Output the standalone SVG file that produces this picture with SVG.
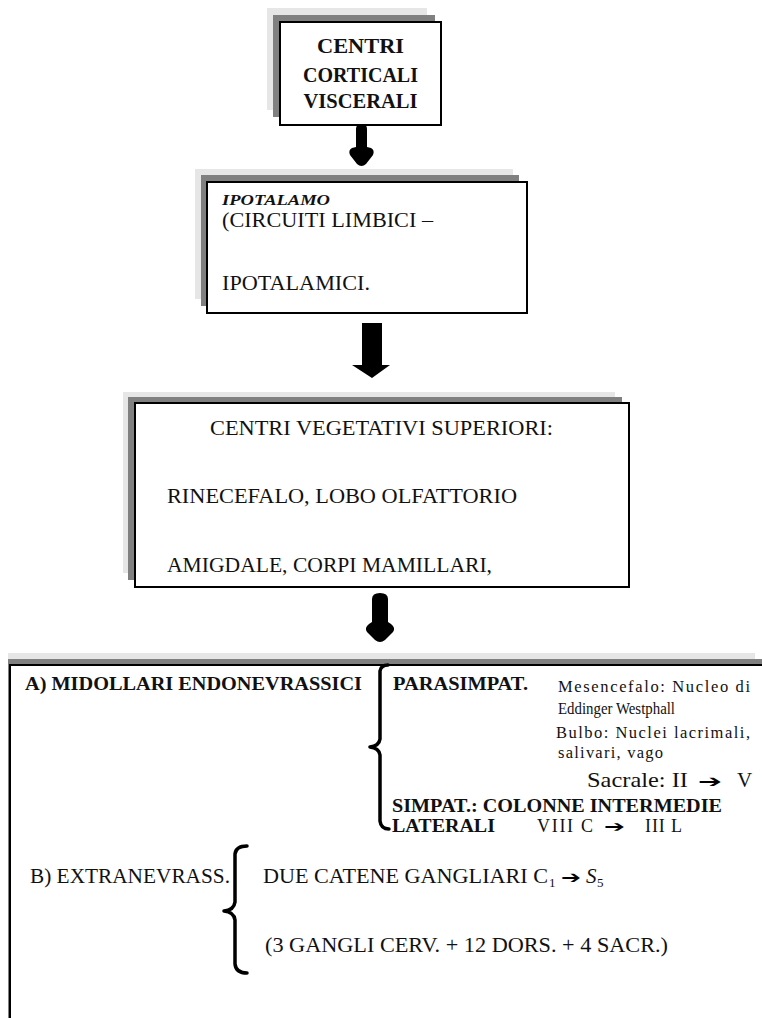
<svg xmlns="http://www.w3.org/2000/svg" width="762" height="1018" viewBox="0 0 762 1018">
<style>
.sh1{fill:#e6e6e6}
.sh2{fill:#808080}
.box{fill:#fff;stroke:#000;stroke-width:2}
.t{font-family:"Liberation Serif","Times New Roman",serif;fill:#111}
.b{font-weight:bold}
.arr{fill:#000}
.brace{fill:none;stroke:#000;stroke-width:3.5;stroke-linecap:round;stroke-linejoin:round}
.sym{font-family:"DejaVu Sans",sans-serif;fill:#000}
</style>
<rect width="762" height="1018" fill="#fff"/>

<g id="node-centri-corticali">
<rect class="sh1" x="267" y="8" width="160" height="102"/>
<rect class="sh2" x="273" y="15" width="162" height="102"/>
<rect class="box" x="280" y="22" width="161" height="103"/>
<text class="t b" x="360.5" y="53" font-size="21" text-anchor="middle" textLength="87" lengthAdjust="spacingAndGlyphs">CENTRI</text>
<text class="t b" x="360.5" y="82" font-size="21" text-anchor="middle" textLength="115" lengthAdjust="spacingAndGlyphs">CORTICALI</text>
<text class="t b" x="360.5" y="108" font-size="21" text-anchor="middle" textLength="114" lengthAdjust="spacingAndGlyphs">VISCERALI</text>
</g>

<g id="node-ipotalamo">
<rect class="sh1" x="195" y="169" width="318" height="130"/>
<rect class="sh2" x="201" y="175" width="318" height="131"/>
<rect class="box" x="207" y="182" width="320" height="131"/>
<text class="t b" x="222" y="205" font-size="15" font-style="italic" textLength="108" lengthAdjust="spacingAndGlyphs">IPOTALAMO</text>
<text class="t" x="222" y="227" font-size="22" textLength="211" lengthAdjust="spacingAndGlyphs">(CIRCUITI LIMBICI –</text>
<text class="t" x="222" y="290" font-size="22" textLength="148" lengthAdjust="spacingAndGlyphs">IPOTALAMICI.</text>
</g>

<g id="node-centri-vegetativi">
<rect class="sh1" x="123" y="392" width="492" height="181"/>
<rect class="sh2" x="128" y="397" width="494" height="183"/>
<rect class="box" x="135" y="403" width="494" height="184"/>
<text class="t" x="210" y="435" font-size="22" textLength="343" lengthAdjust="spacingAndGlyphs">CENTRI VEGETATIVI SUPERIORI:</text>
<text class="t" x="167" y="503" font-size="22" textLength="350" lengthAdjust="spacingAndGlyphs">RINECEFALO, LOBO OLFATTORIO</text>
<text class="t" x="167" y="572" font-size="22" textLength="325" lengthAdjust="spacingAndGlyphs">AMIGDALE, CORPI MAMILLARI,</text>
</g>

<g id="node-centri-midollari">
<rect class="sh1" x="8" y="653" width="747" height="365"/>
<rect class="sh2" x="8" y="659" width="760" height="359"/>
<rect class="box" x="10" y="665" width="770" height="370"/>
<text class="t b" x="25" y="690" font-size="18" textLength="337" lengthAdjust="spacingAndGlyphs">A) MIDOLLARI  ENDONEVRASSICI</text>
<path class="brace" d="M388,665 Q381,665 380,671 L380,739 Q379,746 370,747 Q379,748 380,755 L380,821 Q381,829 389,829"/>
<text class="t b" x="393" y="690" font-size="18" textLength="135" lengthAdjust="spacingAndGlyphs">PARASIMPAT.</text>
<text class="t" x="558" y="692" font-size="16.5" textLength="192" lengthAdjust="spacing">Mesencefalo: Nucleo di</text>
<text class="t" x="558" y="714" font-size="16.5" textLength="117" lengthAdjust="spacingAndGlyphs">Eddinger Westphall</text>
<text class="t" x="556" y="738" font-size="16.5" textLength="194" lengthAdjust="spacing">Bulbo: Nuclei lacrimali,</text>
<text class="t" x="558" y="758" font-size="16.5" textLength="105" lengthAdjust="spacing">salivari, vago</text>
<text class="t" x="587" y="787" font-size="21" textLength="101" lengthAdjust="spacingAndGlyphs">Sacrale: II</text>
<text class="sym" x="698" y="787" font-size="17" textLength="24" lengthAdjust="spacingAndGlyphs">➔</text>
<text class="t" x="737" y="787" font-size="21">V</text>
<text class="t b" x="392" y="812" font-size="18" textLength="330" lengthAdjust="spacingAndGlyphs">SIMPAT.: COLONNE INTERMEDIE</text>
<text class="t b" x="392" y="832" font-size="18" textLength="103" lengthAdjust="spacingAndGlyphs">LATERALI</text>
<text class="t" x="537" y="832" font-size="18" textLength="56" lengthAdjust="spacing">VIII  C</text>
<text class="sym" x="604" y="832" font-size="16" textLength="21" lengthAdjust="spacingAndGlyphs">➔</text>
<text class="t" x="645" y="832" font-size="18" textLength="37" lengthAdjust="spacing">III L</text>
<text class="t" x="30" y="883" font-size="21" textLength="200" lengthAdjust="spacingAndGlyphs">B) EXTRANEVRASS.</text>
<path class="brace" d="M247,846 Q236,846 235,854 L235,902 Q234,910 224,911 Q234,912 235,920 L235,964 Q236,973 247,973"/>
<text class="t" x="263" y="883" font-size="21" textLength="285" lengthAdjust="spacingAndGlyphs">DUE CATENE GANGLIARI C</text>
<text class="t" x="549" y="887" font-size="13">1</text>
<text class="sym" x="561" y="883" font-size="17" textLength="20" lengthAdjust="spacingAndGlyphs">➔</text>
<text class="t" x="586" y="883" font-size="21" font-style="italic">S</text>
<text class="t" x="597" y="887" font-size="13">5</text>
<text class="t" x="265" y="952" font-size="21" textLength="403" lengthAdjust="spacingAndGlyphs">(3 GANGLI CERV. + 12 DORS. + 4 SACR.)</text>
</g>

<g id="connectors">
<path class="arr" d="M356,129 Q356,124 361.5,124 Q367,124 367,129 L367,147 L371,148 Q375,150 373,155 L366,164 Q361.5,168 357,164 L350,155 Q348,150 352,148 L356,147 Z"/>
<path class="arr" d="M362,323 L382,323 L382,365 L390,365 L372,378 L352,365 L362,365 Z"/>
<path class="arr" d="M372,599 Q372,593 380,593 Q388,593 388,599 L388,622 L391,624 Q396,628 393,632 L385,640 Q380,644 375,640 L367,632 Q364,628 369,624 L372,622 Z"/>
</g>
</svg>
